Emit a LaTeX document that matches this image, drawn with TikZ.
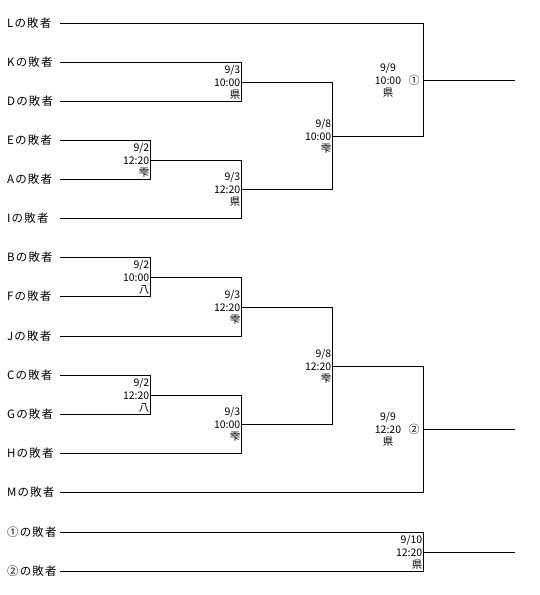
\documentclass[tikz,border=0pt]{standalone}
\usepackage{fontspec}
\setmainfont{Noto Sans CJK JP}
\newfontfamily\jpfont{Noto Sans CJK JP}
\newfontfamily\jpwide[LetterSpace=10]{Noto Sans CJK JP}
\tikzset{
  team/.style={anchor=west, inner sep=0pt, font=\jpwide\fontsize{11.5}{13}\selectfont},
  info/.style={anchor=east, align=right, inner sep=1pt, font=\jpfont\fontsize{10.5}{12.5}\selectfont},
  infoc/.style={anchor=center, align=center, inner sep=0pt, font=\jpfont\fontsize{10.5}{12.5}\selectfont},
  circmark/.style={anchor=center, inner sep=0pt, font=\jpfont\fontsize{11}{12}\selectfont},
  br/.style={line width=1pt, black},
}
\begin{document}
\begin{tikzpicture}[x=1pt,y=-1pt]
\useasboundingbox (0,0) rectangle (540,595);
% team labels and line starts
\foreach \n/\t/\y in {L/L/23.5, K/K/62.5, D/D/101.5, E/E/140.5, A/A/179.5, I/I/218.5,
  B/B/257.5, F/F/296.5, J/J/336.5, C/C/375.5, G/G/414.5, H/H/453.5, M/M/492.5}{
  \node[team] (t\n) at (7,\y) {\t の敗者};
  \coordinate (s\n) at (60,\y);
}
\node[team] (tW1) at (7,532.5) {①の敗者};
\coordinate (sW1) at (60,532.5);
\node[team] (tW2) at (7,571.5) {②の敗者};
\coordinate (sW2) at (60,571.5);

% match junction coordinates (output points on the vertical lines)
\coordinate (m1) at (241.5,82.5);   % K vs D
\coordinate (m2) at (150.5,160.5);  % E vs A
\coordinate (m3) at (241.5,189.5);  % m2 vs I
\coordinate (m4) at (332.5,136.5);  % m1 vs m3
\coordinate (m5) at (423.5,80.5);   % L vs m4
\coordinate (m6) at (150.5,277.5);  % B vs F
\coordinate (m7) at (241.5,307.5);  % m6 vs J
\coordinate (m8) at (150.5,395.5);  % C vs G
\coordinate (m9) at (241.5,424.5);  % m8 vs H
\coordinate (m10) at (332.5,366.5); % m7 vs m9
\coordinate (m11) at (423.5,429.5); % m10 vs M
\coordinate (m12) at (423.5,552.5); % W1 vs W2
\coordinate (e5) at (515,80.5);
\coordinate (e11) at (515,429.5);
\coordinate (e12) at (515,552.5);

% brackets
\draw[br] (sK) -| (m1) |- (sD);
\draw[br] (sE) -| (m2) |- (sA);
\draw[br] (m2) -| (m3) |- (sI);
\draw[br] (m1) -| (m4) |- (m3);
\draw[br] (sL) -| (m5) |- (m4);
\draw[br] (m5) -- (e5);
\draw[br] (sB) -| (m6) |- (sF);
\draw[br] (m6) -| (m7) |- (sJ);
\draw[br] (sC) -| (m8) |- (sG);
\draw[br] (m8) -| (m9) |- (sH);
\draw[br] (m7) -| (m10) |- (m9);
\draw[br] (m10) -| (m11) |- (sM);
\draw[br] (m11) -- (e11);
\draw[br] (sW1) -| (m12) |- (sW2);
\draw[br] (m12) -- (e12);

% match info
\node[info] (i1) at (m1) {9/3\\10:00\\県};
\node[info] (i2) at (m2) {9/2\\12:20\\雫};
\node[info] (i3) at (m3) {9/3\\12:20\\県};
\node[info] (i4) at (m4) {9/8\\10:00\\雫};
\node[infoc] (i5) at (388,80.5) {9/9\\10:00\\県};
\node[circmark] (c5) at (414,80.5) {①};
\node[info] (i6) at (m6) {9/2\\10:00\\八};
\node[info] (i7) at (m7) {9/3\\12:20\\雫};
\node[info] (i8) at (m8) {9/2\\12:20\\八};
\node[info] (i9) at (m9) {9/3\\10:00\\雫};
\node[info] (i10) at (m10) {9/8\\12:20\\雫};
\node[infoc] (i11) at (388,429.5) {9/9\\12:20\\県};
\node[circmark] (c11) at (414,429.5) {②};
\node[info] (i12) at (m12) {9/10\\12:20\\県};
\end{tikzpicture}
\end{document}
